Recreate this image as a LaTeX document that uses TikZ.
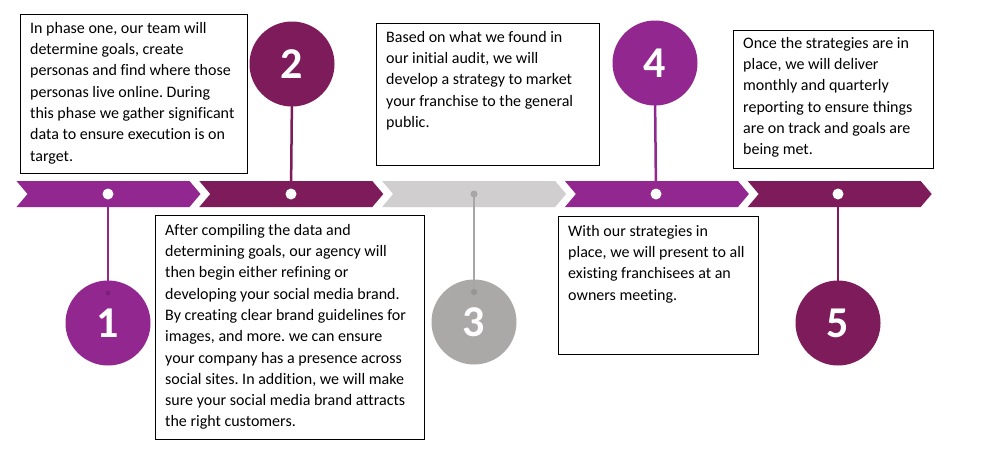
\documentclass[tikz,border=0pt]{standalone}
\usepackage{fontspec}
\setmainfont{Carlito}[Ligatures=NoCommon]
\usetikzlibrary{calc}
\definecolor{purpA}{HTML}{92278F}
\definecolor{purpB}{HTML}{7E1C5B}
\definecolor{greyA}{HTML}{D0CECE}
\definecolor{greyB}{HTML}{ABA8A8}
\definecolor{greyL}{HTML}{A6A6A6}
\tikzset{
  textbox/.style={draw=black, line width=1pt, inner sep=0pt, anchor=north west},
  txt/.style={inner sep=0pt, anchor=north west, align=left, font=\fontsize{16}{21.3}\selectfont\frenchspacing},
  numcirc/.style={circle, inner sep=0pt, minimum size=85pt, text=white, font=\fontsize{44}{44}\selectfont\bfseries},
  wdot/.style={circle, fill=white, inner sep=0pt, minimum size=11pt},
  gdot/.style={circle, fill=greyL, inner sep=0pt, minimum size=7pt},
  conn/.style={line width=2.5pt},
}
\begin{document}
\begin{tikzpicture}[x=1pt,y=-1pt]
\useasboundingbox[fill=white] (0,0) rectangle (992,475);
% chevrons
\foreach \i/\c in {0/purpA,1/purpB,2/greyA,3/purpA,4/purpB}{
  \fill[\c] ({16.5+182.8*\i},181) -- ++(173,0) -- ++(11,13) -- ++(-11,13) -- ++(-173,0) -- ++(11,-13) -- cycle;
}
% circles
\node[numcirc, fill=purpA] (c1) at (108,323) {1};
\node[numcirc, fill=purpB] (c2) at (292,64) {2};
\node[numcirc, fill=greyB] (c3) at (474,322) {3};
\node[numcirc, fill=purpA] (c4) at (655,63) {4};
\node[numcirc, fill=purpB] (c5) at (838,323) {5};
% dot anchors on the timeline
\coordinate (p1) at (108,194);
\coordinate (p2) at (291,194);
\coordinate (p3) at (474,194);
\coordinate (p4) at (656,194);
\coordinate (p5) at (838,194);
% connectors
\draw[conn, purpA] (p1) -- ($(c1.center)+(0,-30)$) coordinate (e1);
\fill[purpA!85!black] (e1) circle (2.5pt);
\draw[conn, purpB] (p2) -- ($(c2.center)+(0,30)$);
\draw[conn, greyL] (p3) -- ($(c3.center)+(0,-30)$) coordinate (e3);
\fill[greyL!90!black] (e3) circle (3pt);
\draw[conn, purpA] (p4) -- ($(c4.center)+(0,30)$);
\draw[conn, purpB] (p5) -- ($(c5.center)+(0,-30)$);
% dots
\node[wdot] (d1) at (p1) {};
\node[wdot] (d2) at (p2) {};
\node[gdot] (d3) at (p3) {};
\node[wdot] (d4) at (p4) {};
\node[wdot] (d5) at (p5) {};
% text boxes
\node[textbox, minimum width=227pt, minimum height=159pt] (b1) at (20,14) {};
\node[txt] (t1) at ($(b1.north west)+(10,4)$) {\rule{0pt}{15pt}In phase one, our team will\\determine goals, create\\personas and find where those\\personas live online. During\\this phase we gather significant\\data to ensure execution is on\\target.};
\node[textbox, minimum width=269pt, minimum height=224pt] (b2) at (155,215) {};
\node[txt] (t2) at ($(b2.north west)+(10,5)$) {\rule{0pt}{15pt}After compiling the data and\\determining goals, our agency will\\then begin either refining or\\developing your social media brand.\\By creating clear brand guidelines for\\images, and more. we can ensure\\your company has a presence across\\social sites. In addition, we will make\\sure your social media brand attracts\\the right customers.};
\node[textbox, minimum width=223pt, minimum height=142pt] (b3) at (376,23) {};
\node[txt] (t3) at ($(b3.north west)+(10,4)$) {\rule{0pt}{15pt}Based on what we found in\\our initial audit, we will\\develop a strategy to market\\your franchise to the general\\public.};
\node[textbox, minimum width=200pt, minimum height=138pt] (b4) at (558,216) {};
\node[txt] (t4) at ($(b4.north west)+(10,5)$) {\rule{0pt}{15pt}With our strategies in\\place, we will present to all\\existing franchisees at an\\owners meeting.};
\node[textbox, minimum width=200pt, minimum height=138pt] (b5) at (733,30) {};
\node[txt] (t5) at ($(b5.north west)+(10,3)$) {\rule{0pt}{15pt}Once the strategies are in\\place, we will deliver\\monthly and quarterly\\reporting to ensure things\\are on track and goals are\\being met.};
\end{tikzpicture}
\end{document}
